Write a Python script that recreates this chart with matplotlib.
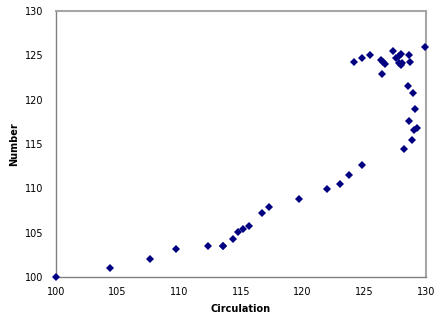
import matplotlib
matplotlib.use("Agg")
import matplotlib.pyplot as plt

# Circulation vs. Number observations
circulation = [100.0, 104.35, 107.6, 109.75, 112.36, 113.5, 113.55, 114.33, 114.74,
               115.17, 115.61, 116.67, 117.24, 119.73, 121.97, 123.03, 123.79, 124.85,
               124.17, 124.8, 125.47, 126.37, 126.53, 126.7, 126.4, 127.29, 127.56,
               127.78, 127.99, 127.83, 127.99, 128.05, 128.64, 128.67, 129.92, 128.56,
               128.92, 129.13, 128.59, 128.99, 129.24, 128.89, 128.21]
number = [100.0, 101.03, 102.05, 103.15, 103.52, 103.45, 103.5, 104.27, 105.13,
          105.36, 105.73, 107.19, 107.94, 108.84, 109.92, 110.48, 111.49, 112.62,
          124.3, 124.68, 125.09, 124.49, 124.3, 124.04, 122.89, 125.51, 124.75,
          124.94, 125.2, 124.08, 123.93, 124.12, 125.02, 124.3, 125.92, 121.49,
          120.79, 118.99, 117.64, 116.6, 116.82, 115.47, 114.42]

x_ticks = [100, 105, 110, 115, 120, 125, 130]
y_ticks = [100, 105, 110, 115, 120, 125, 130]

fig = plt.figure(figsize=(4.45, 3.24), dpi=100)
ax = fig.add_axes([56 / 445, 1 - 277 / 324, 370 / 445, 266 / 324])

ax.plot(circulation, number, linestyle="none", marker="D", markersize=3.8,
        color="#000080", markeredgewidth=0, clip_on=False, zorder=3)

ax.set_xlim(100, 130)
ax.set_ylim(100, 130)
ax.set_xticks(x_ticks)
ax.set_yticks(y_ticks)
ax.tick_params(axis="both", length=0, labelsize=7, colors="black")
ax.tick_params(axis="y", pad=9)
ax.tick_params(axis="x", pad=7)

for side in ("left", "bottom"):
    ax.spines[side].set_color("#808080")
    ax.spines[side].set_linewidth(1.0)
for side in ("top", "right"):
    ax.spines[side].set_color("#a6a6a6")
    ax.spines[side].set_linewidth(1.5)

ax.set_xlabel("Circulation", fontsize=7, fontweight="bold", labelpad=5)
ax.set_ylabel("Number", fontsize=7, fontweight="bold", labelpad=4)

fig.savefig("out.png", dpi=100)
